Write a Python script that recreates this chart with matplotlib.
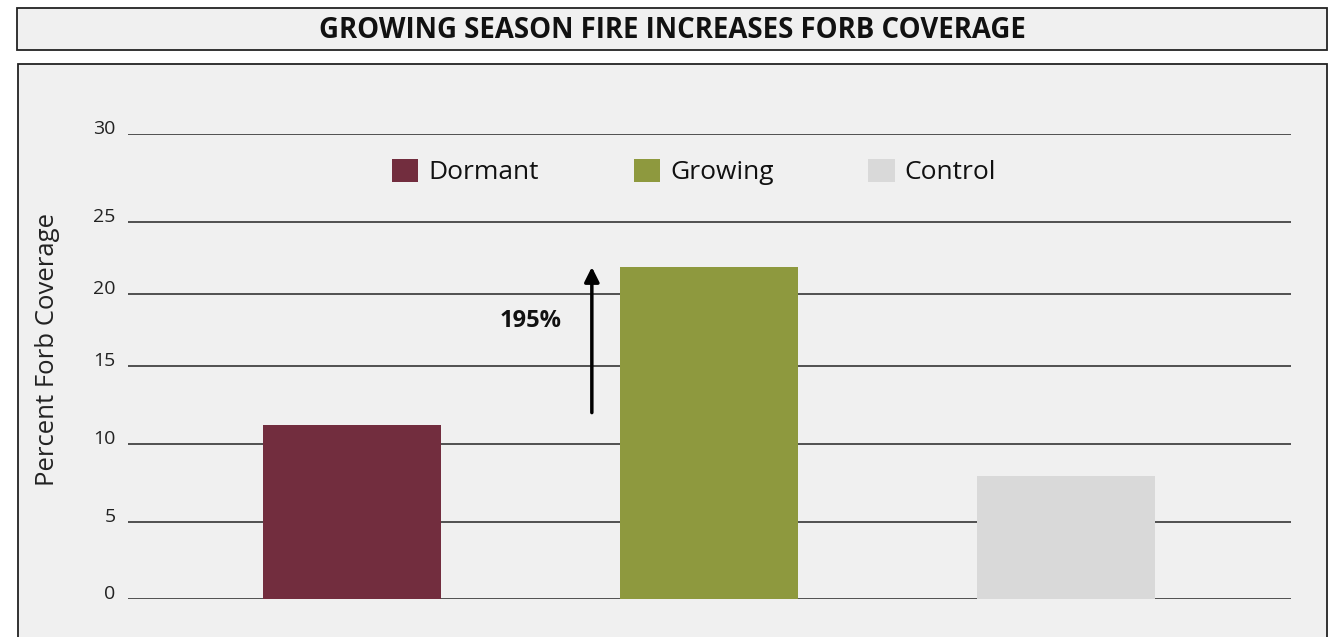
"""Bar chart of forb coverage after dormant vs growing season fire"""

import numpy as np
import matplotlib
matplotlib.use('Agg')
import matplotlib.pyplot as plt
from matplotlib.patches import Rectangle, Patch

# Data
treatments = ['Dormant', 'Growing', 'Control']
forb_cover = [11.2, 21.85, 7.9]
bar_colors = ['#722d3e', '#8e993e', '#d9d9d9']
increase_label = '195%'
arrow_from = 12.0

# The gridlines of the original figure are not evenly spaced, so the
# value axis runs through a piecewise linear scale (heights in px)
y_ticks = [0, 5, 10, 15, 20, 25, 30]
grid_px = [0, 77.3, 155.3, 233.0, 305.3, 377.3, 465.5]

def forward(v):
    v = np.asarray(v, dtype=float)
    out = np.interp(v, y_ticks, grid_px)
    lo, hi = v < y_ticks[0], v > y_ticks[-1]
    out = np.where(lo, grid_px[0] + (v - y_ticks[0]) * 15.46, out)
    out = np.where(hi, grid_px[-1] + (v - y_ticks[-1]) * 17.6, out)
    return out

def inverse(p):
    p = np.asarray(p, dtype=float)
    out = np.interp(p, grid_px, y_ticks)
    lo, hi = p < grid_px[0], p > grid_px[-1]
    out = np.where(lo, y_ticks[0] + (p - grid_px[0]) / 15.46, out)
    out = np.where(hi, y_ticks[-1] + (p - grid_px[-1]) / 17.6, out)
    return out

plt.rcParams['font.family'] = ['Open Sans', 'DejaVu Sans']

W, H = 1339, 637
fig = plt.figure(figsize=(W / 100, H / 100), dpi=100)
fig.patch.set_facecolor('white')

# Title box and grey chart panel (figure pixel coords -> fractions)
def px_rect(x0, y0, x1, y1, **kw):
    return Rectangle((x0 / W, 1 - y1 / H), (x1 - x0) / W, (y1 - y0) / H,
                     transform=fig.transFigure, zorder=-1, **kw)

fig.patches.append(px_rect(17, 8, 1327, 50, facecolor='#f0f0f0',
                           edgecolor='#222222', linewidth=1.3))
fig.patches.append(px_rect(18, 64, 1327, 700, facecolor='#f0f0f0',
                           edgecolor='#222222', linewidth=1.3))
fig.text(672 / W, 1 - 31 / H, 'GROWING SEASON FIRE INCREASES FORB COVERAGE',
         ha='center', va='center', fontsize=19.8, fontweight='bold',
         color='#111111')

ax = fig.add_axes([128 / W, 1 - 599 / H, (1291 - 128) / W, (599 - 133.5) / H])
ax.set_facecolor('none')
ax.set_yscale('function', functions=(forward, inverse))
ax.set_ylim(0, 30)
ax.set_xlim(-0.627, 2.63)

x = np.arange(len(treatments))
ax.bar(x, forb_cover, width=0.5, color=bar_colors, zorder=2)

# Gridlines only, no spines or tick marks
ax.set_yticks(y_ticks, [str(t) for t in y_ticks], va='baseline')
ax.set_xticks([])
ax.yaxis.grid(True, color='#444444', linewidth=1.3)
ax.set_axisbelow(True)
ax.tick_params(axis='y', length=0, pad=9, labelsize=14, labelcolor='#222222')
for s in ax.spines.values():
    s.set_visible(False)

fig.text(47 / W, 1 - 349 / H, 'Percent Forb Coverage', rotation=90,
         ha='center', va='center', fontsize=18.5, color='#222222')

# Arrow from dormant level up to the growing bar, with the increase label
ax.annotate('', xy=(0.672, forb_cover[1]), xytext=(0.672, arrow_from),
            arrowprops=dict(arrowstyle='-|>', color='black', lw=2.5,
                            mutation_scale=22, shrinkA=0, shrinkB=0))
ax.text(0.5, 18.1, increase_label, ha='center', va='center', fontsize=17,
        fontweight='bold', color='#111111')

handles = [Patch(facecolor=c, edgecolor='none', label=t)
           for t, c in zip(treatments, bar_colors)]
fig.legend(handles=handles, loc='center', bbox_to_anchor=(694 / W, 1 - 172 / H),
           ncol=3, frameon=False, fontsize=19, handlelength=1.0,
           handleheight=1.0, handletextpad=0.38, columnspacing=3.6,
           labelcolor='#111111')

plt.savefig('out.png', dpi=100)
